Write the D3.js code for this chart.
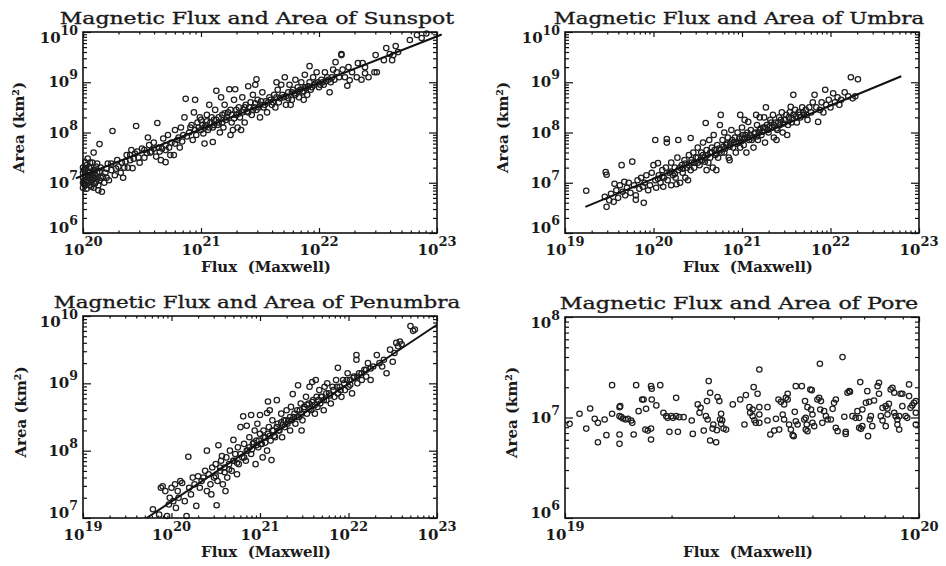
<!DOCTYPE html>
<html>
<head>
<meta charset="utf-8">
<script src="https://cdn.jsdelivr.net/npm/d3@7"></script>
<style>
body { margin: 0; background: #fff; }
svg { display: block; }
text { font-family: "DejaVu Serif", serif; fill: #1a1a1a; }
</style>
</head>
<body>
<div id="chart"></div>
<script>

// points are [log10 flux (Mx), log10 area (km^2)]
var sunspotPts = [
[20.0,7.0],[20.0,7.2],[20.0,6.9],[20.01,7.05],[20.01,7.25],[20.02,6.95],[20.02,7.15],[20.03,7.35],[20.03,6.88],[20.04,7.1],
[20.05,7.0],[20.05,7.3],[20.06,7.2],[20.06,7.4],[20.07,6.92],[20.07,7.12],[20.08,7.4],[20.08,7.05],[20.09,7.25],[20.1,6.98],
[20.1,7.15],[20.11,7.32],[20.12,7.08],[20.13,6.95],[20.14,7.22],[20.15,7.1],[20.13,6.85],[20.16,6.82],[20.18,7.0],[20.19,7.2],
[20.2,7.28],[20.04,7.48],[20.09,7.6],[20.14,7.77],
[20.0,7.1],[20.0,7.3],[20.01,6.98],[20.02,7.28],[20.02,7.4],[20.03,7.05],[20.04,7.22],[20.05,7.15],[20.06,6.95],[20.06,7.08],
[20.07,7.3],[20.08,7.18],[20.09,6.9],[20.09,7.1],[20.1,7.25],[20.11,7.02],[20.12,7.2],[20.12,7.38],[20.14,7.05],[20.15,7.3],
[20.17,7.12],[20.2,7.1],
[20.22,7.05],[20.24,7.25],[20.25,8.03],[20.27,7.15],[20.3,7.32],[20.32,7.2],[20.34,7.1],[20.36,7.42],[20.38,7.3],[20.4,7.55],
[20.42,7.29],[20.43,7.48],[20.45,8.13],[20.46,7.62],[20.48,7.4],[20.5,7.68],[20.29,7.45],[20.21,7.38],[20.37,7.55],[20.41,7.65],
[20.24,7.38],[20.28,7.28],[20.33,7.4],[20.35,7.3],[20.4,7.45],[20.44,7.58],[20.47,7.5],[20.52,7.65],[20.57,7.6],[20.6,7.68],
[20.65,7.62],[20.7,7.75],[20.73,7.7],[20.78,7.78],[20.81,7.9],[20.84,7.82],
[20.52,7.5],[20.54,7.59],[20.56,7.75],[20.58,7.62],[20.6,7.8],[20.62,7.52],[20.63,8.19],[20.64,7.7],[20.66,7.45],[20.68,7.88],
[20.7,7.41],[20.7,7.65],[20.72,7.95],[20.74,7.55],[20.75,7.8],[20.77,7.55],[20.78,8.05],[20.8,7.85],[20.82,7.7],[20.83,8.1],
[20.85,7.95],[20.87,8.67],[20.86,8.3],[20.88,7.92],[20.55,7.9],[20.67,7.68],
[20.9,8.0],[20.92,8.15],[20.94,8.4],[20.95,8.65],[20.96,7.95],[20.98,8.1],[21.0,8.05],[21.0,8.25],[21.02,7.98],[21.03,7.78],
[21.04,8.15],[21.05,8.35],[21.06,8.05],[21.08,8.2],[21.1,7.81],[21.1,8.1],[21.12,8.45],[21.13,8.83],[21.14,8.15],[21.15,8.3],
[21.16,8.0],[21.18,8.2],[21.2,8.55],[21.2,8.38],[20.99,8.3],[21.07,8.55],[21.11,8.25],[21.17,8.7],[20.93,7.85],[21.19,8.1],
[20.91,8.1],[20.95,8.05],[20.97,8.2],[21.01,8.15],[21.03,8.1],[21.05,8.22],[21.07,8.1],[21.09,8.3],[21.11,8.15],[21.13,8.25],
[21.15,8.2],[21.18,8.35],[21.21,8.25],[21.23,8.4],[21.26,8.35],[21.28,8.28],[21.3,8.45],[21.32,8.38],[21.35,8.4],[21.37,8.5],
[21.39,8.42],[21.41,8.5],[21.44,8.45],[21.46,8.58],[21.49,8.5],[21.51,8.62],[21.54,8.55],[21.57,8.6],[21.59,8.65],[21.61,8.6],
[21.64,8.7],[21.67,8.68],[21.69,8.75],[21.72,8.72],[21.74,8.68],[21.77,8.8],[21.79,8.78],[21.82,8.82],[21.84,8.85],[21.87,8.82],
[21.89,8.88],[21.91,8.92],[21.94,8.9],[21.97,8.98],[21.99,9.0],[22.01,8.95],[22.03,9.0],[22.06,9.02],[22.08,9.05],[22.11,9.1],
[21.22,8.3],[21.24,8.86],[21.25,7.95],[21.25,8.45],[21.26,8.2],[21.28,8.65],[21.29,8.86],[21.3,8.35],[21.31,8.1],[21.32,8.5],
[21.33,8.3],[21.35,8.7],[21.36,8.45],[21.37,8.2],[21.38,8.55],[21.4,8.92],[21.4,8.4],[21.42,8.6],[21.43,8.35],[21.44,8.75],
[21.45,8.5],[21.47,9.06],[21.47,8.45],[21.48,8.65],[21.5,8.55],[21.5,8.3],[21.52,8.8],[21.53,8.5],[21.55,8.62],[21.56,8.4],
[21.58,8.7],[21.6,8.55],[21.27,8.05],[21.34,8.05],[21.46,8.95],
[21.62,8.75],[21.63,8.5],[21.65,8.85],[21.66,8.6],[21.68,8.95],[21.7,8.7],[21.71,9.1],[21.72,8.55],[21.74,8.8],[21.75,8.95],
[21.77,8.65],[21.78,8.85],[21.8,8.75],[21.8,9.05],[21.82,8.9],[21.83,8.7],[21.85,9.0],[21.86,8.8],[21.88,9.15],[21.88,8.9],
[21.9,8.75],[21.92,9.32],[21.92,9.0],[21.93,8.85],[21.95,9.1],[21.96,8.95],[21.98,9.2],[22.0,8.9],[21.64,9.0],[21.76,8.55],
[21.87,8.65],
[22.02,9.05],[22.04,8.95],[22.05,9.2],[22.07,9.1],[22.09,8.8],[22.1,9.0],[22.12,9.25],[22.13,9.05],[22.14,9.4],[22.15,9.2],
[22.17,9.1],[22.19,9.56],[22.19,9.54],[22.2,9.25],[22.22,9.1],[22.24,8.93],[22.25,9.3],[22.26,9.04],[22.28,9.2],[22.32,9.1],
[22.33,9.38],[22.37,9.38],[22.36,9.05],[22.39,9.18],[22.39,9.3],[22.42,9.1],[22.47,9.2],[22.48,9.54],[22.49,9.2],[22.55,9.44],
[22.57,9.68],[22.62,9.44],[22.65,9.72],[22.6,9.56],[22.63,9.54],[22.67,9.6],[22.77,9.84],[22.83,9.94],[22.87,9.88],[22.91,9.97]
]

var umbraPts = [
[19.24,6.84],[19.46,7.21],[19.47,7.16],[19.47,6.52],[19.45,6.72],[19.5,6.65],[19.52,6.78],[19.55,6.62],[19.58,6.85],[19.6,6.7],
[19.62,6.95],[19.64,7.35],[19.65,6.82],[19.68,6.75],[19.7,6.9],[19.72,7.0],[19.74,6.8],[19.76,7.42],[19.78,6.95],[19.8,6.66],
[19.8,6.75],[19.82,7.05],[19.84,6.88],[19.86,7.1],[19.88,6.92],[19.89,6.6],[19.9,7.0],[19.92,7.15],[19.94,6.85],[19.96,6.95],
[19.98,7.2],[20.0,7.35],[19.56,6.98],[19.67,7.02],
[20.02,7.85],[20.02,7.05],[20.03,6.9],[20.05,7.39],[20.06,7.15],[20.08,7.0],[20.1,7.25],[20.11,6.92],[20.12,7.1],[20.14,7.3],
[20.15,7.87],[20.15,7.8],[20.16,7.05],[20.18,7.2],[20.2,7.4],[20.2,6.95],[20.22,7.15],[20.24,7.3],[20.25,7.1],[20.27,7.5],
[20.28,7.85],[20.28,7.25],[20.3,7.0],[20.32,7.35],[20.33,7.2],[20.35,7.45],[20.36,7.1],[20.38,7.3],[20.4,7.55],[20.42,7.89],
[20.42,7.25],[20.43,7.4],[20.45,7.6],[20.46,7.3],[20.48,7.5],[20.5,7.7],[20.5,7.4],[20.52,7.35],[20.54,7.6],[20.55,7.45],
[20.56,7.8],[20.58,7.5],[20.59,8.19],[20.6,7.65],[20.6,7.25],[20.26,6.97],[20.39,7.05],
[20.3,7.3],[20.33,7.28],[20.36,7.38],[20.4,7.35],[20.43,7.45],[20.46,7.4],[20.5,7.5],[20.53,7.45],[20.56,7.55],[20.58,7.42],
[20.61,7.55],[20.64,7.5],[20.66,7.6],[20.69,7.65],[20.71,7.58],[20.74,7.68],[20.77,7.6],[20.79,7.72],[20.81,7.68],[20.83,7.78],
[20.86,7.72],[20.89,7.85],[20.91,7.8],[20.94,7.78],[20.97,7.88],[20.99,7.82],[21.01,7.95],[21.03,7.88],[21.06,7.9],[21.09,7.95],
[21.11,7.85],[21.14,7.98],[21.17,7.92],[21.19,8.0],[21.21,8.08],[21.23,8.02],[21.26,8.1],[21.29,8.05],[21.31,8.12],[21.33,8.2],
[21.36,8.15],[21.39,8.08],[21.41,8.2],[21.44,8.25],[21.47,8.18],[21.49,8.25],[21.53,8.3],[21.57,8.28],[21.61,8.32],[21.65,8.35],
[21.69,8.4],[21.73,8.35],[20.2,7.22],[20.24,7.18],[20.1,7.12],[20.05,7.08],
[20.62,7.4],[20.63,7.85],[20.64,7.6],[20.66,7.7],[20.67,7.3],[20.68,7.95],[20.7,7.55],[20.72,7.75],[20.73,7.5],[20.75,8.15],
[20.76,8.35],[20.76,7.65],[20.78,7.85],[20.8,7.6],[20.8,8.0],[20.82,7.75],[20.84,7.9],[20.85,7.5],[20.87,7.8],[20.88,8.05],
[20.9,7.7],[20.92,7.9],[20.93,7.6],[20.95,8.0],[20.96,7.8],[20.98,8.35],[20.98,7.7],[21.0,7.9],[21.0,8.1],[21.02,7.75],
[21.04,7.95],[21.05,7.6],[21.06,8.0],[21.07,8.21],[21.08,7.85],[21.1,8.05],[21.12,7.9],[21.13,7.7],[21.15,8.0],[21.16,8.35],
[21.17,8.15],[21.18,7.85],[21.2,8.05],[21.2,8.3],[20.71,7.25],[20.86,7.45],[21.03,8.25],
[21.22,7.95],[21.24,8.1],[21.25,8.3],[21.26,7.8],[21.28,8.15],[21.3,8.0],[21.32,8.25],[21.34,8.1],[21.35,8.35],[21.36,7.9],
[21.38,8.2],[21.4,8.05],[21.42,8.3],[21.43,8.15],[21.45,8.4],[21.46,8.0],[21.48,8.25],[21.5,8.35],[21.52,8.15],[21.54,8.4],
[21.55,8.51],[21.56,8.2],[21.58,8.75],[21.58,8.35],[21.6,8.45],[21.62,8.2],[21.64,8.4],[21.66,8.3],[21.68,8.5],[21.7,8.35],
[21.72,8.45],[21.74,8.25],[21.76,8.5],[21.78,8.4],[21.8,8.6],[21.27,8.5],[21.39,7.85],[21.51,7.95],
[21.82,8.75],[21.84,8.5],[21.86,8.21],[21.88,8.45],[21.9,8.6],[21.92,8.4],[21.94,8.85],[21.95,8.55],[21.98,8.65],[22.0,8.5],
[22.03,8.78],[22.05,8.6],[22.08,8.7],[22.1,8.55],[22.12,8.65],[22.16,8.8],[22.2,8.72],[22.23,9.1],[22.31,9.06],[22.25,8.68],
[22.28,8.72]
]

var penumbraPts = [
[19.79,7.13],[19.86,7.05],[19.9,7.47],[19.93,7.4],[19.95,7.03],[19.97,7.2],[19.98,7.3],[20.0,7.45],[20.02,7.25],[20.04,7.5],
[20.07,7.4],[20.08,7.3],[20.1,7.55],[20.12,7.52],[20.15,7.25],[20.17,7.03],[20.19,7.91],[20.2,7.45],[20.22,7.35],[20.24,7.6],
[20.26,7.5],[20.28,7.18],[20.3,7.62],[19.88,7.45],[20.05,7.15],
[20.32,7.45],[20.34,7.55],[20.36,7.6],[20.38,7.7],[20.4,8.0],[20.4,7.4],[20.42,7.65],[20.44,7.5],[20.46,7.75],[20.48,7.6],
[20.5,7.8],[20.51,7.19],[20.52,7.55],[20.53,8.08],[20.55,7.7],[20.56,7.85],[20.57,7.92],[20.58,7.5],[20.6,7.75],[20.62,7.9],
[20.63,7.6],[20.65,7.8],[20.66,8.0],[20.68,7.7],[20.7,8.16],[20.7,7.85],[20.72,7.95],[20.74,7.65],[20.75,8.05],[20.76,7.8],
[20.78,8.35],[20.8,7.9],[20.45,7.35],[20.61,7.4],
[20.5,7.62],[20.55,7.75],[20.6,7.68],[20.65,7.72],[20.7,7.85],[20.74,7.82],[20.78,7.95],[20.82,7.9],[20.85,8.0],[20.88,8.05],
[20.91,8.02],[20.93,8.12],[20.96,8.08],[20.99,8.15],[21.01,8.1],[21.04,8.2],[21.06,8.12],[21.09,8.25],[21.11,8.22],[21.14,8.3],
[21.16,8.22],[21.19,8.35],[21.21,8.3],[21.24,8.42],[21.26,8.38],[21.29,8.45],[21.31,8.4],[21.34,8.5],[21.36,8.45],[21.39,8.55],
[21.42,8.5],[21.45,8.6],[21.47,8.55],[21.5,8.62],[21.53,8.68],[21.56,8.62],[21.59,8.72],[21.62,8.68],[21.66,8.75],[21.69,8.8],
[21.72,8.75],[21.75,8.85],[21.79,8.82],[21.83,8.9],[21.87,8.95],[21.91,8.9],[21.95,9.0],[21.98,9.05],[22.02,8.98],[22.06,9.08],
[22.1,9.1],[22.15,9.15],[22.2,9.2],[22.25,9.22],
[20.81,8.51],[20.82,8.1],[20.84,7.85],[20.85,8.37],[20.86,8.0],[20.88,8.2],[20.9,8.53],[20.9,7.95],[20.92,8.1],[20.94,8.3],
[20.95,7.8],[20.96,8.15],[20.98,8.05],[21.0,8.53],[21.0,8.25],[21.02,8.1],[21.03,7.9],[21.04,8.3],[21.06,8.2],[21.08,8.56],
[21.08,8.0],[21.09,8.73],[21.1,8.35],[21.12,8.15],[21.13,7.86],[21.14,8.45],[21.15,8.3],[21.17,8.2],[21.19,8.75],[21.2,8.4],
[21.22,8.3],[21.24,8.55],[21.25,8.2],[21.27,8.45],[21.28,8.35],[21.3,8.6],[20.97,8.4],[21.11,8.6],
[21.32,8.45],[21.34,8.3],[21.35,8.65],[21.37,8.84],[21.38,8.5],[21.4,8.4],[21.42,8.6],[21.43,8.97],[21.44,8.5],[21.46,8.7],
[21.48,8.45],[21.5,8.65],[21.52,8.8],[21.53,8.55],[21.55,8.7],[21.56,8.95],[21.58,8.6],[21.59,9.02],[21.6,8.75],[21.62,8.55],
[21.64,8.8],[21.65,8.65],[21.67,8.9],[21.68,8.7],[21.7,8.8],[21.72,8.6],[21.73,8.95],[21.75,8.75],[21.76,9.0],[21.78,8.85],
[21.8,8.7],[21.82,8.95],[21.84,8.8],[21.86,9.05],[21.88,9.23],[21.88,8.85],[21.9,8.95],[21.47,8.3],[21.63,9.05],
[21.92,8.8],[21.94,9.05],[21.96,8.9],[21.99,9.15],[22.0,8.95],[22.02,9.05],[22.04,8.85],[22.06,9.1],[22.09,9.42],[22.09,9.35],
[22.1,9.0],[22.12,9.15],[22.15,9.05],[22.18,9.2],[22.2,9.1],[22.22,9.3],[22.25,9.05],[22.28,9.25],[22.32,9.42],[22.35,9.3],
[22.38,9.25],[22.4,9.35],[22.43,9.15],[22.47,9.5],[22.5,9.32],
[22.52,9.45],[22.54,9.6],[22.56,9.55],[22.58,9.62],[22.6,9.58],[22.7,9.85],[22.73,9.78],[22.75,9.8]
]

var porePts = [
[19.013,6.937],[19.041,7.037],[19.060,6.890],[19.071,7.090],[19.084,6.987],[19.093,6.947],[19.093,6.754],[19.112,6.980],[19.117,6.824],[19.133,7.037],
[19.133,7.322],[19.154,7.103],[19.156,7.113],[19.154,7.013],[19.154,6.831],[19.154,6.738],[19.159,7.003],[19.164,6.990],[19.171,6.980],[19.178,6.987],
[19.187,6.970],[19.190,6.947],[19.194,6.831],[19.201,7.322],[19.208,7.063],[19.218,7.179],[19.222,7.179],[19.229,7.086],[19.227,6.880],[19.234,6.870],
[19.243,6.890],[19.243,7.312],[19.245,7.286],[19.243,6.781],[19.245,7.179],[19.258,7.120],[19.269,7.322],[19.278,7.047],[19.286,7.013],[19.290,6.997],
[19.300,7.013],[19.305,6.997],[19.314,7.013],[19.323,7.003],[19.335,7.003],[19.295,6.857],[19.314,7.196],[19.319,6.857],[19.358,6.970],[19.361,6.837],
[19.375,7.130],[19.383,7.096],[19.380,7.047],[19.392,6.870],[19.398,7.013],[19.403,6.980],[19.401,7.163],[19.406,7.362],[19.410,7.246],[19.410,6.771],
[19.427,6.754],[19.417,6.890],[19.419,6.930],[19.429,6.874],[19.431,7.203],[19.436,7.163],[19.441,7.037],[19.438,6.980],[19.444,6.973],[19.441,6.937],
[19.448,6.890],[19.455,6.880],[19.474,7.130],[19.495,7.179],[19.507,6.930],[19.511,7.223],[19.521,7.103],[19.523,7.047],[19.530,7.080],[19.530,7.013],
[19.535,6.973],[19.539,6.947],[19.533,7.302],[19.544,7.236],[19.549,7.478],[19.549,7.103],[19.549,7.030],[19.549,6.947],[19.572,7.103],[19.572,6.970],
[19.580,6.831],[19.591,6.870],[19.596,6.987],[19.605,6.880],[19.603,7.179],[19.610,7.156],[19.619,7.130],[19.624,7.196],[19.629,7.179],[19.615,7.030],
[19.619,6.980],[19.629,7.236],[19.633,6.930],[19.638,6.880],[19.643,6.824],[19.646,6.814],[19.649,7.056],[19.652,6.963],[19.657,6.930],[19.652,7.312],
[19.669,7.312],[19.676,6.980],[19.680,6.880],[19.680,6.997],[19.683,6.930],[19.685,6.864],[19.678,7.163],[19.685,7.103],[19.693,7.279],[19.697,7.272],
[19.695,7.080],[19.699,7.030],[19.699,6.947],[19.704,6.914],[19.713,7.179],[19.718,7.196],[19.721,7.080],[19.723,7.163],[19.720,7.535],[19.727,6.947],
[19.732,7.063],[19.737,7.013],[19.742,6.980],[19.751,6.980],[19.756,7.086],[19.760,7.146],[19.765,7.179],[19.765,6.897],[19.770,6.864],[19.784,7.601],
[19.789,7.007],[19.793,6.857],[19.793,6.837],[19.798,7.246],[19.803,7.262],[19.805,7.256],[19.812,7.013],[19.821,6.997],[19.826,7.063],[19.831,6.997],
[19.831,6.897],[19.836,6.887],[19.840,6.914],[19.834,7.352],[19.840,7.080],[19.850,7.146],[19.854,7.262],[19.859,7.156],[19.856,6.814],[19.861,6.980],
[19.864,7.013],[19.868,6.914],[19.873,7.169],[19.883,7.312],[19.887,7.346],[19.887,7.236],[19.892,7.013],[19.897,6.970],[19.897,7.096],[19.906,7.113],
[19.911,7.030],[19.906,6.914],[19.911,7.090],[19.915,7.136],[19.920,7.279],[19.925,7.296],[19.930,7.246],[19.930,7.047],[19.934,7.013],[19.939,6.980],
[19.944,7.013],[19.939,6.930],[19.944,6.880],[19.948,7.236],[19.953,7.236],[19.953,7.113],[19.962,7.013],[19.967,6.997],[19.972,7.329],[19.972,7.213],
[19.976,7.096],[19.981,7.120],[19.986,7.146],[19.991,7.163],[19.991,7.047],[19.991,6.930]
]

// fitted power laws, end points in log10
var sunspotFit = [[19.94,7.09],[23.04,9.95]]
var umbraFit = [[19.23,6.52],[22.80,9.12]]
var penumbraFit = [[19.72,7.0],[23.0,9.87]]

var titles = ['Magnetic Flux and Area of Sunspot', 'Magnetic Flux and Area of Umbra',
  'Magnetic Flux and Area of Penumbra', 'Magnetic Flux and Area of Pore']
var xLabel = 'Flux\u00a0\u00a0(Maxwell)'
var yLabel = 'Area (km\u00b2)'

// major tick exponents
var sunspotXExp = [20,21,22,23], sunspotYExp = [6,7,8,9,10]
var umbraXExp = [19,20,21,22,23], umbraYExp = [6,7,8,9,10]
var penumbraXExp = [19,20,21,22,23], penumbraYExp = [7,8,9,10]
var poreXExp = [19,20], poreYExp = [6,7,8]

var panels = [
  {title: titles[0], pts: sunspotPts, fit: sunspotFit, xe: sunspotXExp, ye: sunspotYExp,
   left: 83, right: 437, top: 32, bottom: 233, ylx: 24},
  {title: titles[1], pts: umbraPts, fit: umbraFit, xe: umbraXExp, ye: umbraYExp,
   left: 565, right: 919, top: 32, bottom: 233, ylx: 508},
  {title: titles[2], pts: penumbraPts, fit: penumbraFit, xe: penumbraXExp, ye: penumbraYExp,
   left: 83, right: 437, top: 316, bottom: 518, ylx: 26},
  {title: titles[3], pts: porePts, fit: null, xe: poreXExp, ye: poreYExp,
   left: 565, right: 919, top: 317, bottom: 518, ylx: 517}
]

var svg = d3.select('#chart').append('svg').attr('width', 946).attr('height', 566)

function minors(exps){
  var out = []
  for (var e = exps[0]; e < exps[exps.length-1]; e++)
    for (var k = 2; k < 10; k++) out.push(k * Math.pow(10, e))
  return out
}

function ticks(g, axisFn, scale, vals, len, tr){
  var a = axisFn(scale).tickValues(vals).tickSizeInner(-len).tickSizeOuter(0).tickFormat('')
  var s = g.append('g').attr('transform', tr).call(a)
  s.select('.domain').remove()
  s.selectAll('line').attr('stroke', '#111').attr('stroke-width', 1.2)
}

function pow(e){ return Math.pow(10, e) }

panels.forEach(function(p){
  var w = p.right - p.left, h = p.bottom - p.top
  var g = svg.append('g').attr('transform', 'translate(' + p.left + ',' + p.top + ')')

  var x = d3.scaleLog().domain([pow(p.xe[0]), pow(p.xe[p.xe.length-1])]).range([0, w])
  var y = d3.scaleLog().domain([pow(p.ye[0]), pow(p.ye[p.ye.length-1])]).range([h, 0])

  var xMaj = p.xe.map(pow), yMaj = p.ye.map(pow)
  var xMin = minors(p.xe), yMin = minors(p.ye)

  ticks(g, d3.axisBottom, x, xMaj, 5, 'translate(0,' + h + ')')
  ticks(g, d3.axisBottom, x, xMin, 2.5, 'translate(0,' + h + ')')
  ticks(g, d3.axisTop, x, xMaj, 5, null)
  ticks(g, d3.axisTop, x, xMin, 2.5, null)
  ticks(g, d3.axisLeft, y, yMaj, 8, null)
  ticks(g, d3.axisLeft, y, yMin, 4, null)
  ticks(g, d3.axisRight, y, yMaj, 8, 'translate(' + w + ',0)')
  ticks(g, d3.axisRight, y, yMin, 4, 'translate(' + w + ',0)')

  g.append('g').selectAll('circle')
    .data(p.pts)
    .join('circle')
    .attr('cx', function(d){ return x(pow(d[0])) })
    .attr('cy', function(d){ return y(pow(d[1])) })
    .attr('r', 2.7)
    .attr('fill', 'none')
    .attr('stroke', '#1e1e1e')
    .attr('stroke-width', 1.25)

  if (p.fit){
    var line = d3.line().x(function(d){ return x(pow(d[0])) }).y(function(d){ return y(pow(d[1])) })
    g.append('path').attr('d', line(p.fit)).attr('fill', 'none').attr('stroke', '#111').attr('stroke-width', 2)
  }

  g.append('rect').attr('width', w).attr('height', h)
    .attr('fill', 'none').attr('stroke', '#111').attr('stroke-width', 1.6)

  // tick labels: 10 with exponent
  var xl = g.append('g').selectAll('text').data(p.xe).join('text')
    .attr('x', function(d){ return x(pow(d)) })
    .attr('y', h + 22)
    .attr('text-anchor', 'middle')
    .attr('font-weight', 'bold')
    .attr('font-size', 15)
  xl.append('tspan').text('10')
  xl.append('tspan').attr('dy', -9).attr('font-size', 13).text(function(d){ return d })

  var last = p.ye[p.ye.length-1], first = p.ye[0]
  var yl = g.append('g').selectAll('text').data(p.ye).join('text')
    .attr('x', -5)
    .attr('y', function(d){ return y(pow(d)) + (d == last ? 11 : d == first ? 0 : 5) })
    .attr('text-anchor', 'end')
    .attr('font-weight', 'bold')
    .attr('font-size', 15)
  yl.append('tspan').text('10')
  yl.append('tspan').attr('dy', -8).attr('font-size', 12.5).text(function(d){ return d })

  svg.append('text')
    .attr('x', (p.left + p.right) / 2 - 3)
    .attr('y', p.top - 8)
    .attr('text-anchor', 'middle')
    .attr('font-size', 17)
    .attr('stroke', '#1a1a1a')
    .attr('stroke-width', 0.35)
    .attr('textLength', p.title.length * 11.95)
    .attr('lengthAdjust', 'spacingAndGlyphs')
    .text(p.title)

  svg.append('text')
    .attr('x', (p.left + p.right) / 2 + 6)
    .attr('y', p.bottom + 39)
    .attr('text-anchor', 'middle')
    .attr('font-weight', 'bold')
    .attr('font-size', 15)
    .text(xLabel)

  svg.append('text')
    .attr('transform', 'translate(' + p.ylx + ',' + ((p.top + p.bottom) / 2 - 5) + ') rotate(-90)')
    .attr('text-anchor', 'middle')
    .attr('font-weight', 'bold')
    .attr('font-size', 15)
    .text(yLabel)
})

</script>
</body>
</html>
